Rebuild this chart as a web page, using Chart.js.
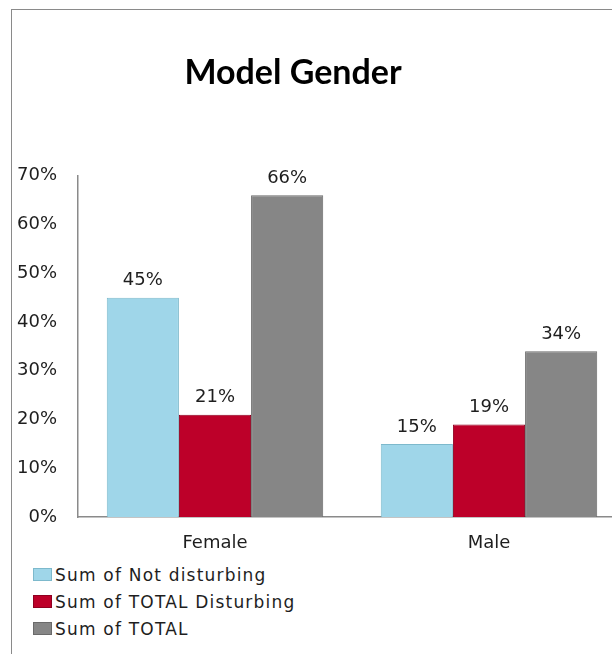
<!DOCTYPE html>
<html>
<head>
<meta charset="utf-8">
<script src="https://cdn.jsdelivr.net/npm/chart.js@4"></script>
<style>
  html, body { margin: 0; padding: 0; background: #fff; }
  #wrap { position: relative; width: 612px; height: 654px; overflow: hidden; }
  #frame { position: absolute; left: 11px; top: 9px; width: 700px; height: 700px;
           border-left: 1.5px solid #8a8a8a; border-top: 1.5px solid #8a8a8a; }
  #chart { position: absolute; left: 0; top: 0; }
  #legend { position: absolute; left: 33px; top: 561px; font: 17px "DejaVu Sans", sans-serif;
            letter-spacing: 1.2px; color: #1e1e1e; }
  .item { display: flex; align-items: center; height: 27px; }
  .sw { width: 19px; height: 13px; margin-right: 3px; box-sizing: border-box; border: 1px solid; }
</style>
</head>
<body>
<div id="wrap">
  <div id="frame"></div>
  <canvas id="chart"></canvas>
  <div id="legend"></div>
</div>
<script>
  // ---- data ----
  const categories = ['Female', 'Male'];
  const seriesNames = ['Sum of Not disturbing', 'Sum of TOTAL Disturbing', 'Sum of TOTAL'];
  const notDisturbing = [45, 15];
  const totalDisturbing = [21, 19];
  const total = [66, 34];
  const yTicks = [0, 10, 20, 30, 40, 50, 60, 70];

  const fills = ['#9fd6e9', '#bd0029', '#868686'];
  const edges = ['#7db9cc', '#8f0020', '#6a6a6a'];

  const labelFont = '18px "DejaVu Sans", sans-serif';

  // draws "45%" etc. above each bar
  const valueLabels = {
    id: 'valueLabels',
    afterDatasetsDraw(chart) {
      const ctx = chart.ctx;
      ctx.save();
      ctx.font = labelFont;
      ctx.fillStyle = '#1e1e1e';
      ctx.textAlign = 'center';
      ctx.textBaseline = 'middle';
      chart.data.datasets.forEach((ds, i) => {
        chart.getDatasetMeta(i).data.forEach((bar, j) => {
          ctx.fillText(ds.data[j] + '%', bar.x, bar.y - 17);
        });
      });
      ctx.restore();
    }
  };

  // the canvas is wider than the window (plot runs off the right edge),
  // so pull the title back to the visible centre
  const titleShift = {
    id: 'titleShift',
    afterLayout(chart) {
      chart.titleBlock.left = 0;
      chart.titleBlock.right = 586;
    }
  };

  const canvas = document.getElementById('chart');
  canvas.width = 640;
  canvas.height = 560;
  canvas.style.width = '640px';
  canvas.style.height = '560px';

  const chart = new Chart(canvas, {
    type: 'bar',
    data: {
      labels: categories,
      datasets: [notDisturbing, totalDisturbing, total].map((d, i) => ({
        label: seriesNames[i],
        data: d,
        backgroundColor: fills[i],
        borderColor: edges[i],
        borderWidth: 1,
        categoryPercentage: 0.79,
        barPercentage: 1
      }))
    },
    options: {
      responsive: false,
      animation: false,
      devicePixelRatio: 1,
      layout: { padding: { left: 0, right: 14, top: 0, bottom: 0 } },
      plugins: {
        legend: { display: false },
        tooltip: { enabled: false },
        title: {
          display: true,
          text: 'Model Gender',
          color: '#000',
          font: { family: 'Lato', weight: 'bold', size: 34, lineHeight: 1.2 },
          padding: { top: 53, bottom: 82 }
        }
      },
      scales: {
        x: {
          grid: { display: false, drawTicks: false },
          border: { color: '#8a8a8a', width: 1.5 },
          ticks: { color: '#1e1e1e', font: { family: 'DejaVu Sans', size: 18 }, padding: 16 },
          afterFit: (s) => { s.height = 43; }
        },
        y: {
          min: 0,
          max: 70,
          afterBuildTicks: (s) => { s.ticks = yTicks.map(v => ({ value: v })); },
          grid: { display: false, drawTicks: false },
          border: { color: '#8a8a8a', width: 1.5 },
          ticks: {
            color: '#1e1e1e',
            font: { family: 'DejaVu Sans', size: 18 },
            padding: 21,
            callback: (v) => v + '%'
          },
          afterFit: (s) => { s.width = 78; }
        }
      }
    },
    plugins: [valueLabels, titleShift]
  });

  // vertical legend under the chart
  const legend = document.getElementById('legend');
  chart.data.datasets.forEach((ds) => {
    const row = document.createElement('div');
    row.className = 'item';
    row.innerHTML = `<span class="sw" style="background:${ds.backgroundColor};border-color:${ds.borderColor}"></span>${ds.label}`;
    legend.appendChild(row);
  });
</script>
</body>
</html>
